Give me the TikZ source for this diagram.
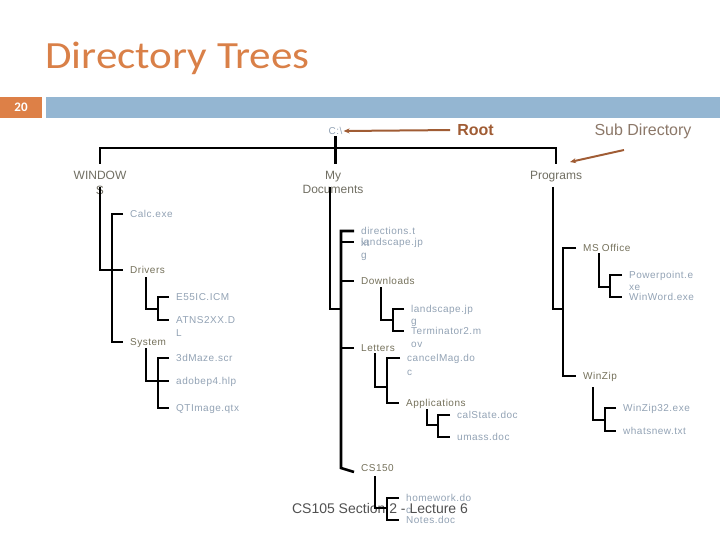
\documentclass[tikz,border=0pt]{standalone}
\usepackage{fontspec}
\setmainfont{Liberation Sans}
\newfontfamily\titlefont{Carlito}
\newfontfamily\treefont[LetterSpace=5]{Liberation Sans}
\usetikzlibrary{arrows.meta}
\definecolor{titleor}{RGB}{217,128,72}
\definecolor{boxor}{RGB}{221,128,71}
\definecolor{barblue}{RGB}{148,182,210}
\definecolor{dircol}{RGB}{116,112,90}
\definecolor{filecol}{RGB}{146,162,180}
\definecolor{topcol}{RGB}{112,110,98}
\definecolor{rootbr}{RGB}{160,92,52}
\definecolor{subcol}{RGB}{140,120,105}
\definecolor{footcol}{RGB}{80,80,80}
\begin{document}
\begin{tikzpicture}[x=1pt,y=-1pt,
  tree/.style={line width=2.6pt,line join=miter,black},
  lab/.style={anchor=west,inner xsep=7pt,inner ysep=0pt,text height=7pt,text depth=0pt,font=\treefont\fontsize{10}{12}\selectfont},
  dirlab/.style={lab,text=dircol},
  filelab/.style={lab,text=filecol},
  toplab/.style={anchor=north,align=center,inner sep=0pt,inner ysep=7pt,text=topcol,font=\fontsize{12}{14.5}\selectfont},
  brarrow/.style={rootbr,line width=2pt,-{Stealth[length=6pt,width=5pt]}}]
\useasboundingbox (0,0) rectangle (720,540);
% header
\node[anchor=base west,inner sep=0pt,xscale=1.12,text=titleor,font=\titlefont\fontsize{38.5}{40}\selectfont] (title) at (45,69) {Directory Trees};
\fill[boxor] (0,97) rectangle (42,118);
\fill[barblue] (46,97) rectangle (720,118);
\node[text=white,font=\titlefont\bfseries\fontsize{13}{14}\selectfont] (pagenum) at (21,107.5) {20};
% top labels
\node[text=filecol,inner sep=1pt,font=\treefont\fontsize{10}{12}\selectfont] (croot) at (335.5,131) {C:\textbackslash};
\node[text=rootbr,font=\bfseries\fontsize{16}{18}\selectfont,inner sep=1pt] (rootlab) at (475.5,130) {Root};
\node[text=subcol,font=\fontsize{16}{18}\selectfont,inner sep=1pt] (sublab) at (643,131) {Sub Directory};
\coordinate (subtail) at (624,150);
\coordinate (subtip) at (570,162);
\draw[brarrow,shorten <=6pt] (rootlab.west) -- (croot.east);
\draw[brarrow] (subtail) -- (subtip);
\node[toplab] (windows) at (100,164) {WINDOW\\S};
\node[toplab] (mydocs) at (333,164) {My\\Documents};
\node[toplab] (programs) at (556,164) {Programs};
% Windows children
\node[filelab] (calc) at (123,214) {Calc.exe};
\node[dirlab] (drivers) at (123,270) {Drivers};
\node[dirlab] (system) at (123,342) {System};
\node[filelab] (e55) at (169,297) {E55IC.ICM};
\node[filelab] (atns) at (169,320) {ATNS2XX.D};
\node[filelab] (atnsL) at (169,333) {L};
\node[filelab] (maze) at (169,358) {3dMaze.scr};
\node[filelab] (adobe) at (169,381) {adobep4.hlp};
\node[filelab] (qt) at (169,408) {QTImage.qtx};
% My Documents children
\node[filelab] (dirs) at (354,231) {directions.t};
\node[filelab] (dirsB) at (354,243) {xt};
\node[filelab] (land) at (354,242) {landscape.jp};
\node[filelab] (landB) at (354,255) {g};
\node[dirlab] (down) at (354,281) {Downloads};
\node[filelab] (land2) at (404,309) {landscape.jp};
\node[filelab] (land2B) at (404,321) {g};
\node[filelab] (term) at (404,331) {Terminator2.m};
\node[filelab] (termB) at (404,344) {ov};
\node[dirlab] (letters) at (354,348) {Letters};
\node[filelab] (cancel) at (400,358) {cancelMag.do};
\node[filelab] (cancelB) at (400,372) {c};
\node[dirlab] (apps) at (399,403) {Applications};
\node[filelab] (cal) at (450,415) {calState.doc};
\node[filelab] (umass) at (450,437) {umass.doc};
\node[dirlab] (cs150) at (354,468) {CS150};
\node[filelab] (hw) at (399,498) {homework.do};
\node[filelab] (hwB) at (399,510) {c};
\node[filelab] (notes) at (399,520) {Notes.doc};
% Programs children
\node[dirlab] (msoff) at (576,248) {MS Office};
\node[filelab] (ppt) at (622,275) {Powerpoint.e};
\node[filelab] (pptB) at (622,287) {xe};
\node[filelab] (word) at (622,297) {WinWord.exe};
\node[dirlab] (winzip) at (576,376) {WinZip};
\node[filelab] (wz32) at (616,408) {WinZip32.exe};
\node[filelab] (wnew) at (616,431) {whatsnew.txt};
% footer
\node[text=footcol,font=\fontsize{14}{16}\selectfont,inner sep=0pt] (footer) at (380,508) {CS105 Section 2 - Lecture 6};
% ---- tree lines ----
\coordinate (hbar) at (0,148);
\draw[tree] (windows.north) -- (windows.north |- hbar) -- (programs.north |- hbar) -- (programs.north);
\draw[tree] (croot.south) -- (croot.south |- windows.north);
% trunks
\coordinate (wtrunk) at (100,187);
\coordinate (mtrunk) at (330,187);
\coordinate (ptrunk) at (553,187);
\coordinate (wbar) at (112,0);
\coordinate (mbar) at (341,0);
\coordinate (pbar) at (563,0);
\draw[tree] (wtrunk) |- (drivers.west);
\draw[tree] (calc.west) -- (calc.west -| wbar) -- (system.west -| wbar) -- (system.west);
\draw[tree] (mtrunk) -- (330,309) -- (341,309);
\draw[tree] (dirs.west) -- (dirs.west -| mbar) -- (cs150.west -| mbar) -- ([yshift=-4pt]cs150.west);
\draw[tree] (land.west -| mbar) -- (land.west);
\draw[tree] (down.west -| mbar) -- (down.west);
\draw[tree] (letters.west -| mbar) -- (letters.west);
\draw[tree] (ptrunk) -- (553,309) -- (563,309);
\draw[tree] (msoff.west) -- (msoff.west -| pbar) -- (winzip.west -| pbar) -- (winzip.west);
% Drivers subtree
\coordinate (drT) at (146,277); \coordinate (drJ) at (146,309); \coordinate (drBar) at (158,0);
\draw[tree] (drT) -- (drJ) -- (drJ -| drBar);
\draw[tree] (e55.west) -- (e55.west -| drBar) -- (atns.west -| drBar) -- (atns.west);
% System subtree
\coordinate (syT) at (146,348); \coordinate (syJ) at (146,381); \coordinate (syBar) at (158,0);
\draw[tree] (syT) -- (syJ) -- (syJ -| syBar);
\draw[tree] (maze.west) -- (maze.west -| syBar) -- (qt.west -| syBar) -- (qt.west);
\draw[tree] (adobe.west -| syBar) -- (adobe.west);
% Downloads subtree
\coordinate (dnT) at (381,287); \coordinate (dnJ) at (381,320); \coordinate (dnBar) at (393,0);
\draw[tree] (dnT) -- (dnJ) -- (dnJ -| dnBar);
\draw[tree] (land2.west) -- (land2.west -| dnBar) -- (term.west -| dnBar) -- (term.west);
% Letters subtree
\coordinate (leT) at (375,353); \coordinate (leJ) at (375,387); \coordinate (leBar) at (387,0);
\draw[tree] (leT) -- (leJ) -- (leJ -| leBar);
\draw[tree] (cancel.west) -- (cancel.west -| leBar) -- (apps.west -| leBar) -- (apps.west);
% Applications subtree
\coordinate (apT) at (427,409); \coordinate (apJ) at (427,425); \coordinate (apBar) at (438,0);
\draw[tree] (apT) -- (apJ) -- (apJ -| apBar);
\draw[tree] (cal.west) -- (cal.west -| apBar) -- (umass.west -| apBar) -- (umass.west);
% CS150 subtree
\coordinate (csT) at (375,476); \coordinate (csJ) at (375,508); \coordinate (csBar) at (387,0);
\draw[tree] (csT) -- (csJ) -- (csJ -| csBar);
\draw[tree] (hw.west) -- (hw.west -| csBar) -- (notes.west -| csBar) -- (notes.west);
% MS Office subtree
\coordinate (moT) at (599,253); \coordinate (moJ) at (599,287); \coordinate (moBar) at (610,0);
\draw[tree] (moT) -- (moJ) -- (moJ -| moBar);
\draw[tree] (ppt.west) -- (ppt.west -| moBar) -- (word.west -| moBar) -- (word.west);
% WinZip subtree
\coordinate (wzT) at (593,387); \coordinate (wzJ) at (593,420); \coordinate (wzBar) at (605,0);
\draw[tree] (wzT) -- (wzJ) -- (wzJ -| wzBar);
\draw[tree] (wz32.west) -- (wz32.west -| wzBar) -- (wnew.west -| wzBar) -- (wnew.west);
\end{tikzpicture}
\end{document}
